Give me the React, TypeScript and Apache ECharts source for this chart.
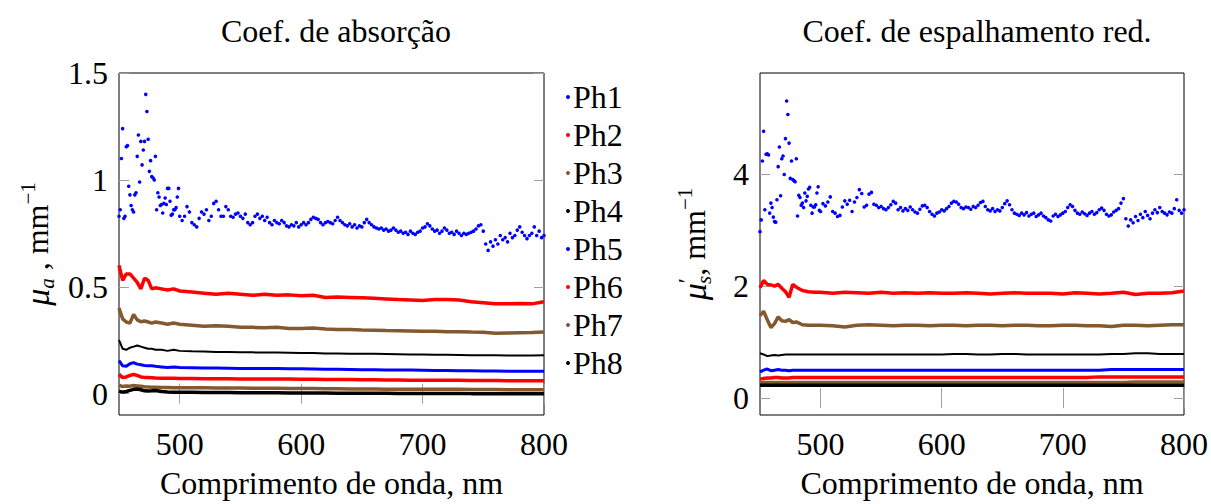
import React, { useEffect, useRef } from "react";
import * as echarts from "echarts";

// wavelength sampling grids (nm)
const seq = (a: number, b: number, s: number) => {
  const r: number[] = [];
  for (let v = a; v <= b; v += s) r.push(v);
  return r;
};
const wlScatter = [...seq(450, 500, 1), ...seq(502, 800, 2)];
const wlLine = [450, 453, 456, 459, 462, 465, 468, 471, 474, 477, 480, 485, 490, 495, 500,
  510, 520, 530, 540, 550, 560, 570, 580, 590, 600, 610, 620, 630, 640, 650,
  660, 670, 680, 690, 700, 710, 720, 730, 740, 750, 760, 770, 780, 790, 800];

const names = ["Ph1", "Ph2", "Ph3", "Ph4", "Ph5", "Ph6", "Ph7", "Ph8"];
const colors = ["#0000ff", "#ff0000", "#84592f", "#000000", "#0000ff", "#ff0000", "#84592f", "#000000"];

// absorption coefficient (mm^-1)
const absPh1 = [0.83, 0.86, 1.10, 1.24, 0.82, 0.83, 1.155, 1.16, 0.97, 0.93,
  0.88, 0.86, 0.85, 0.93, 0.94, 1.11, 1.21, 0.99, 1.18, 1.07,
  1.14, 1.18, 1.40, 1.32, 1.19, 1.04, 1.09, 1.015, 1.01, 1.00,
  1.11, 0.86, 0.94, 0.92, 0.88, 0.885, 0.845, 0.89, 0.915, 0.885,
  0.96, 0.96, 0.90, 0.835, 0.84, 0.86, 0.86, 0.87, 0.92, 0.96,
  0.83,
  0.81, 0.83, 0.875, 0.85, 0.80, 0.79, 0.78, 0.82, 0.85, 0.84,
  0.86, 0.81, 0.83, 0.89, 0.90, 0.86, 0.83, 0.83, 0.875, 0.86,
  0.83, 0.825, 0.84, 0.845, 0.83, 0.82, 0.84, 0.80, 0.79, 0.80,
  0.83, 0.84, 0.82, 0.83, 0.81, 0.825, 0.80, 0.79, 0.81, 0.80,
  0.795, 0.81, 0.80, 0.785, 0.78, 0.79, 0.785, 0.80, 0.78, 0.79,
  0.80, 0.79, 0.80, 0.815, 0.825, 0.82, 0.815, 0.80, 0.79, 0.80,
  0.805, 0.80, 0.795, 0.81, 0.825, 0.81, 0.80, 0.79, 0.785, 0.795,
  0.78, 0.79, 0.775, 0.785, 0.78, 0.80, 0.815, 0.80, 0.79, 0.78,
  0.775, 0.77, 0.775, 0.765, 0.77, 0.76, 0.765, 0.775, 0.765, 0.755,
  0.76, 0.75, 0.755, 0.745, 0.76, 0.75, 0.745, 0.755, 0.76, 0.775,
  0.78, 0.795, 0.785, 0.77, 0.76, 0.765, 0.75, 0.76, 0.775, 0.765,
  0.75, 0.755, 0.745, 0.76, 0.75, 0.74, 0.75, 0.745, 0.75, 0.755,
  0.76, 0.77, 0.785, 0.79, 0.76, 0.70, 0.67, 0.71, 0.69, 0.72,
  0.70, 0.74, 0.72, 0.73, 0.71, 0.75, 0.73, 0.74, 0.765, 0.78,
  0.755, 0.74, 0.725, 0.74, 0.75, 0.78, 0.74, 0.76, 0.73, 0.74];
const absPh2 = [0.60, 0.53, 0.56, 0.56, 0.54, 0.52, 0.49, 0.54, 0.53, 0.49, 0.495, 0.49, 0.485, 0.49, 0.48,
  0.475, 0.47, 0.465, 0.47, 0.465, 0.46, 0.465, 0.46, 0.462, 0.458, 0.46, 0.45, 0.452, 0.45, 0.448,
  0.446, 0.443, 0.44, 0.438, 0.436, 0.44, 0.44, 0.438, 0.43, 0.425, 0.42, 0.42, 0.422, 0.42, 0.43];
const absPh3 = [0.40, 0.35, 0.335, 0.33, 0.37, 0.345, 0.336, 0.34, 0.335, 0.33, 0.335, 0.33, 0.325, 0.33, 0.325,
  0.32, 0.315, 0.318, 0.315, 0.31, 0.31, 0.308, 0.31, 0.305, 0.305, 0.307, 0.302, 0.30, 0.30, 0.298,
  0.297, 0.295, 0.294, 0.293, 0.292, 0.292, 0.29, 0.29, 0.288, 0.287, 0.283, 0.284, 0.285, 0.286, 0.288];
const absPh4 = [0.25, 0.21, 0.205, 0.215, 0.22, 0.225, 0.22, 0.215, 0.21, 0.21, 0.205, 0.205, 0.20, 0.205, 0.20,
  0.198, 0.197, 0.195, 0.195, 0.194, 0.193, 0.192, 0.192, 0.191, 0.19, 0.19, 0.188, 0.188, 0.187, 0.186,
  0.186, 0.185, 0.184, 0.183, 0.183, 0.182, 0.182, 0.181, 0.18, 0.18, 0.179, 0.178, 0.178, 0.178, 0.179];
const absPh5 = [0.155, 0.13, 0.128, 0.14, 0.145, 0.138, 0.135, 0.132, 0.13, 0.13, 0.128, 0.125, 0.122, 0.125, 0.122,
  0.121, 0.12, 0.12, 0.119, 0.118, 0.118, 0.117, 0.117, 0.116, 0.116, 0.115, 0.114, 0.114, 0.113, 0.112,
  0.112, 0.111, 0.11, 0.11, 0.109, 0.108, 0.108, 0.107, 0.107, 0.106, 0.106, 0.105, 0.105, 0.105, 0.105];
const absPh6 = [0.09, 0.075, 0.078, 0.085, 0.09, 0.085, 0.078, 0.076, 0.075, 0.074, 0.073, 0.072, 0.072, 0.072, 0.071,
  0.071, 0.07, 0.07, 0.07, 0.069, 0.069, 0.068, 0.068, 0.068, 0.067, 0.067, 0.066, 0.066, 0.066, 0.065,
  0.065, 0.064, 0.064, 0.063, 0.063, 0.062, 0.062, 0.062, 0.061, 0.061, 0.061, 0.06, 0.06, 0.06, 0.06];
const absPh7 = [0.04, 0.033, 0.036, 0.035, 0.038, 0.036, 0.034, 0.032, 0.031, 0.03, 0.03, 0.029, 0.029, 0.028, 0.028,
  0.027, 0.027, 0.026, 0.026, 0.026, 0.025, 0.025, 0.025, 0.024, 0.024, 0.024, 0.023, 0.023, 0.022, 0.022,
  0.022, 0.021, 0.021, 0.021, 0.02, 0.02, 0.02, 0.02, 0.019, 0.019, 0.019, 0.018, 0.018, 0.018, 0.018];
const absPh8 = [0.012, 0.007, 0.01, 0.015, 0.02, 0.022, 0.018, 0.013, 0.012, 0.013, 0.015, 0.01, 0.008, 0.007, 0.006,
  0.006, 0.005, 0.005, 0.005, 0.004, 0.004, 0.004, 0.004, 0.003, 0.003, 0.003, 0.003, 0.002, 0.002, 0.002,
  0.002, 0.002, 0.001, 0.001, 0.001, 0.001, 0.001, 0.001, 0.0, 0.0, 0.0, 0.0, 0.0, 0.0, 0.0];

// reduced scattering coefficient (mm^-1)
const scaPh1 = [2.97, 3.18, 4.23, 4.76, 3.36, 4.35, 4.36, 4.34, 3.30, 3.48,
  3.40, 3.23, 3.15, 3.14, 3.54, 4.13, 4.48, 3.61, 4.27, 4.32,
  3.99, 4.63, 5.30, 5.06, 4.55, 3.92, 4.23, 3.90, 3.88, 3.86,
  4.27, 3.25, 3.62, 3.58, 3.44, 3.48, 3.40, 3.66, 3.52, 3.60,
  3.73, 3.76, 3.44, 3.30, 3.41, 3.41, 3.45, 3.66, 3.77, 3.35,
  3.33,
  3.47, 3.43, 3.50, 3.59, 3.33, 3.30, 3.24, 3.26, 3.41, 3.52,
  3.46, 3.53, 3.33, 3.50, 3.58, 3.72, 3.65, 3.41, 3.44, 3.64,
  3.67, 3.46, 3.44, 3.40, 3.42, 3.38, 3.36, 3.40, 3.45, 3.51,
  3.48, 3.36, 3.40, 3.34, 3.38, 3.35, 3.41, 3.36, 3.32, 3.30,
  3.37, 3.43, 3.44, 3.40, 3.33, 3.28, 3.25, 3.30, 3.32, 3.36,
  3.34, 3.38, 3.42, 3.48, 3.51, 3.50, 3.46, 3.40, 3.38, 3.41,
  3.40, 3.37, 3.42, 3.40, 3.44, 3.49, 3.51, 3.42, 3.36, 3.34,
  3.38, 3.33, 3.36, 3.34, 3.40, 3.47, 3.52, 3.45, 3.36, 3.30,
  3.28, 3.26, 3.30, 3.27, 3.31, 3.25, 3.28, 3.30, 3.24, 3.27,
  3.30, 3.25, 3.22, 3.18, 3.16, 3.25, 3.28, 3.24, 3.27, 3.30,
  3.33, 3.40, 3.45, 3.42, 3.35, 3.30, 3.28, 3.32, 3.29, 3.26,
  3.30, 3.33, 3.28, 3.31, 3.36, 3.39, 3.35, 3.28, 3.25, 3.27,
  3.32, 3.35, 3.38, 3.48, 3.56, 3.20, 3.07, 3.18, 3.13, 3.24,
  3.17, 3.28, 3.22, 3.33, 3.26, 3.20, 3.30, 3.36, 3.31, 3.40,
  3.33, 3.30, 3.27, 3.32, 3.30, 3.38, 3.54, 3.35, 3.30, 3.36];
const scaPh2 = [1.97, 2.10, 2.03, 2.02, 2.00, 2.03, 1.96, 1.90, 1.80, 2.03, 1.98, 1.92, 1.90, 1.89, 1.89,
  1.87, 1.89, 1.88, 1.87, 1.89, 1.87, 1.88, 1.87, 1.88, 1.87, 1.87, 1.88, 1.87, 1.86, 1.87,
  1.88, 1.87, 1.87, 1.87, 1.86, 1.88, 1.87, 1.86, 1.87, 1.89, 1.85, 1.87, 1.87, 1.88, 1.91];
const scaPh3 = [1.47, 1.55, 1.40, 1.26, 1.33, 1.45, 1.38, 1.37, 1.40, 1.35, 1.36, 1.31, 1.30, 1.30, 1.30,
  1.29, 1.27, 1.30, 1.31, 1.30, 1.29, 1.30, 1.30, 1.29, 1.30, 1.30, 1.29, 1.30, 1.30, 1.29,
  1.30, 1.30, 1.29, 1.29, 1.30, 1.30, 1.29, 1.29, 1.28, 1.30, 1.30, 1.29, 1.30, 1.31, 1.31];
const scaPh4 = [0.80, 0.78, 0.75, 0.76, 0.77, 0.76, 0.77, 0.78, 0.78, 0.78, 0.78, 0.78, 0.78, 0.78, 0.78,
  0.78, 0.78, 0.78, 0.78, 0.78, 0.78, 0.78, 0.78, 0.78, 0.78, 0.79, 0.79, 0.78, 0.78, 0.79,
  0.79, 0.78, 0.78, 0.78, 0.78, 0.78, 0.78, 0.78, 0.79, 0.79, 0.80, 0.80, 0.79, 0.79, 0.79];
const scaPh5 = [0.47, 0.50, 0.52, 0.49, 0.50, 0.51, 0.50, 0.50, 0.49, 0.50, 0.50, 0.50, 0.50, 0.50, 0.50,
  0.50, 0.50, 0.50, 0.50, 0.50, 0.50, 0.50, 0.50, 0.50, 0.50, 0.50, 0.50, 0.50, 0.50, 0.50,
  0.50, 0.50, 0.50, 0.50, 0.50, 0.50, 0.50, 0.50, 0.51, 0.51, 0.51, 0.51, 0.51, 0.51, 0.51];
const scaPh6 = [0.34, 0.35, 0.36, 0.36, 0.37, 0.37, 0.36, 0.36, 0.36, 0.37, 0.37, 0.37, 0.37, 0.37, 0.37,
  0.37, 0.37, 0.37, 0.37, 0.37, 0.37, 0.37, 0.37, 0.37, 0.37, 0.37, 0.37, 0.37, 0.37, 0.37,
  0.37, 0.37, 0.37, 0.37, 0.37, 0.37, 0.37, 0.38, 0.38, 0.38, 0.38, 0.38, 0.38, 0.38, 0.38];
const scaPh7 = [0.27, 0.28, 0.28, 0.28, 0.28, 0.28, 0.28, 0.28, 0.28, 0.28, 0.28, 0.28, 0.28, 0.28, 0.28,
  0.28, 0.28, 0.28, 0.28, 0.28, 0.28, 0.28, 0.28, 0.28, 0.28, 0.28, 0.28, 0.28, 0.28, 0.28,
  0.28, 0.28, 0.28, 0.28, 0.28, 0.28, 0.28, 0.28, 0.28, 0.28, 0.29, 0.29, 0.29, 0.29, 0.29];
const scaPh8 = [0.23, 0.23, 0.23, 0.23, 0.23, 0.23, 0.23, 0.23, 0.23, 0.23, 0.23, 0.23, 0.23, 0.23, 0.23,
  0.23, 0.23, 0.23, 0.23, 0.23, 0.23, 0.23, 0.23, 0.23, 0.23, 0.23, 0.23, 0.23, 0.23, 0.23,
  0.23, 0.23, 0.23, 0.23, 0.23, 0.23, 0.23, 0.23, 0.23, 0.23, 0.23, 0.23, 0.23, 0.23, 0.23];

const absLines = [absPh2, absPh3, absPh4, absPh5, absPh6, absPh7, absPh8];
const scaLines = [scaPh2, scaPh3, scaPh4, scaPh5, scaPh6, scaPh7, scaPh8];
const lineWidths = [3.5, 3.5, 2, 3, 3.5, 3.5, 3.5];

const xTicks = [500, 600, 700, 800];
const absTicks = [0, 0.5, 1, 1.5];
const scaTicks = [0, 2, 4];

const FONT = "Liberation Serif";
const FS = 32;

const richName: any = {
  mu: { fontFamily: FONT, fontStyle: "italic", fontSize: FS + 2, lineHeight: 40, verticalAlign: "middle", color: "#000" },
  sub: { fontFamily: FONT, fontStyle: "italic", fontSize: 21, lineHeight: 21, verticalAlign: "bottom", color: "#000" },
  subs: { fontFamily: FONT, fontStyle: "italic", fontSize: 21, lineHeight: 21, verticalAlign: "bottom", color: "#000", padding: [0, 0, 0, -6] },
  pr: { fontFamily: FONT, fontSize: 24, lineHeight: 24, verticalAlign: "top", color: "#000" },
  t: { fontFamily: FONT, fontSize: FS, lineHeight: 40, verticalAlign: "middle", color: "#000" },
  sup: { fontFamily: FONT, fontSize: 21, lineHeight: 21, verticalAlign: "top", color: "#000" },
};

export default function App() {
  const ref = useRef<HTMLDivElement>(null);
  useEffect(() => {
    if (!ref.current) return;
    const chart = echarts.init(ref.current, undefined, { renderer: "svg" });
    const tickStyle = { show: true, inside: true, length: 10, lineStyle: { color: "#a0a0a0", width: 1 } };
    const labelStyle = { color: "#000", fontFamily: FONT, fontSize: FS };
    const xAx = (gridIndex: number, position: string, main: boolean) => ({
      type: "value", gridIndex, position, min: 450, max: 800,
      axisLine: { show: false }, splitLine: { show: false },
      axisTick: { ...tickStyle, customValues: xTicks },
      axisLabel: main ? { ...labelStyle, margin: 13, customValues: xTicks } : { show: false },
      name: main ? "Comprimento de onda, nm" : "",
      nameLocation: "middle", nameGap: 52,
      nameTextStyle: { color: "#000", fontFamily: FONT, fontSize: FS },
    });
    const yAx = (gridIndex: number, position: string, main: boolean, min: number, max: number, ticks: number[], name: string, gap: number) => ({
      type: "value", gridIndex, position, min, max,
      axisLine: { show: false }, splitLine: { show: false },
      axisTick: { ...tickStyle, customValues: ticks },
      axisLabel: main ? { ...labelStyle, margin: 11, customValues: ticks } : { show: false },
      name: main ? name : "",
      nameLocation: "middle", nameRotate: 90, nameGap: gap,
      nameTextStyle: { rich: richName },
    });

    const series: any[] = [];
    const addPanel = (ax: number, ph1: number[], lines: number[][]) => {
      lines.forEach((vals, k) => {
        series.push({
          type: "line", name: names[k + 1], xAxisIndex: ax, yAxisIndex: ax,
          data: wlLine.map((w, i) => [w, vals[i]]),
          showSymbol: false, symbol: "none",
          lineStyle: { color: colors[k + 1], width: lineWidths[k] },
          itemStyle: { color: colors[k + 1] },
        });
      });
      series.push({
        type: "scatter", name: names[0], xAxisIndex: ax, yAxisIndex: ax,
        data: wlScatter.map((w, i) => [w, ph1[i]]),
        symbol: "circle", symbolSize: 3.6,
        itemStyle: { color: colors[0], opacity: 1 },
        z: 5,
      });
    };
    addPanel(0, absPh1, absLines);
    addPanel(2, scaPh1, scaLines);

    chart.setOption({
      animation: false,
      backgroundColor: "#fff",
      title: [
        { text: "Coef. de absorção", left: 331, top: 10, textAlign: "center",
          textStyle: { color: "#000", fontFamily: FONT, fontSize: FS, fontWeight: "normal" } },
        { text: "Coef. de espalhamento red.", left: 972, top: 10, textAlign: "center",
          textStyle: { color: "#000", fontFamily: FONT, fontSize: FS, fontWeight: "normal" } },
      ],
      legend: {
        orient: "vertical", left: 561, top: 76, itemGap: 6,
        itemWidth: 4, itemHeight: 4, icon: "circle",
        data: names.map((n) => ({ name: n, icon: "circle" })),
        textStyle: { color: "#000", fontFamily: FONT, fontSize: FS, lineHeight: 31, padding: [0, 0, 0, -2] },
        selectedMode: false,
      },
      grid: [
        { left: 119, top: 73, width: 425, height: 350, show: true, borderColor: "#000", borderWidth: 1, backgroundColor: "transparent" },
        { left: 760, top: 73, width: 425, height: 350, show: true, borderColor: "#000", borderWidth: 1, backgroundColor: "transparent" },
      ],
      xAxis: [xAx(0, "bottom", true), xAx(0, "top", false), xAx(1, "bottom", true), xAx(1, "top", false)],
      yAxis: [
        yAx(0, "left", true, -0.1, 1.5, absTicks, "{mu|μ}{sub|a}{t| , mm}{sup|−1}", 62),
        yAx(0, "right", false, -0.1, 1.5, absTicks, "", 0),
        yAx(1, "left", true, -0.3, 5.8, scaTicks, "{mu|μ}{pr|′}{subs|s}{t|, mm}{sup|−1}", 46),
        yAx(1, "right", false, -0.3, 5.8, scaTicks, "", 0),
      ],
      series,
    } as any);
    return () => chart.dispose();
  }, []);
  return <div ref={ref} style={{ position: "fixed", left: 0, top: 0, width: 1211, height: 504 }} />;
}
